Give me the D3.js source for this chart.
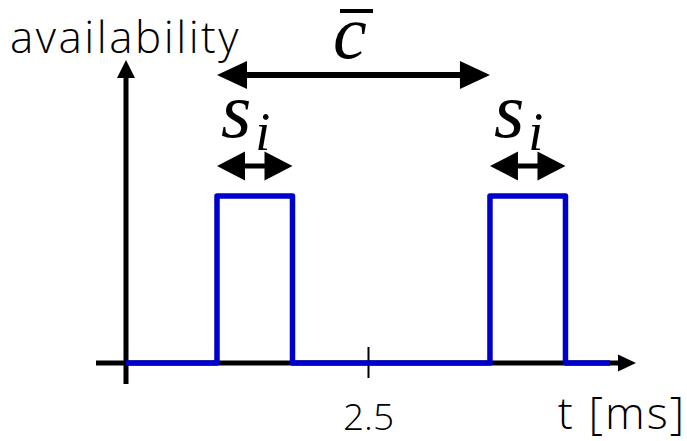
<!DOCTYPE html>
<html>
<head>
<meta charset="utf-8">
<script src="https://cdn.jsdelivr.net/npm/d3@7"></script>
<style>
    body { margin: 0; background: #fff; }
    svg { display: block; }
</style>
</head>
<body>
<div id="chart"></div>
<script>
// step signal: time in ms, availability 0/1
const timeMs = [0, 0.94, 0.94, 1.72, 1.72, 3.76, 3.76, 4.54, 4.54, 5.0];
const availability = [0, 0, 1, 1, 0, 0, 1, 1, 0, 0];

// pulse start / end times (ms)
const pulseStart = [0.94, 3.76];
const pulseEnd = [1.72, 4.54];

// x tick values and labels
const tickValues = [2.5];
const tickLabels = ["2.5"];

const width = 687, height = 441;
const sansFont = "Open Sans";
const mathFont = "Liberation Serif";

let svg = d3.select("#chart").append("svg")
    .attr("width", width)
    .attr("height", height);

// scales
let x = d3.scaleLinear().domain([0, 5]).range([126, 610]);
let y = d3.scaleLinear().domain([0, 1]).range([363, 196]);

// arrow helper: filled triangle head, tip at (tx, ty)
function head(g, tx, ty, dir, len, half) {
    let pts;
    if (dir === "right") pts = [[tx, ty], [tx - len, ty - half], [tx - len, ty + half]];
    if (dir === "left") pts = [[tx, ty], [tx + len, ty - half], [tx + len, ty + half]];
    if (dir === "up") pts = [[tx, ty], [tx - half, ty + len], [tx + half, ty + len]];
    g.append("polygon")
        .attr("points", pts.map(p => p.join(",")).join(" "))
        .attr("fill", "#000");
}

// axes
let axes = svg.append("g");
let y0 = y(0);
let xTip = 636, yTip = 60;

axes.append("line")
    .attr("x1", 96).attr("x2", xTip - 16)
    .attr("y1", y0).attr("y2", y0)
    .attr("stroke", "#000").attr("stroke-width", 5);
head(axes, xTip, y0, "right", 18, 8.5);

axes.append("line")
    .attr("x1", x(0)).attr("x2", x(0))
    .attr("y1", 384).attr("y2", yTip + 16)
    .attr("stroke", "#000").attr("stroke-width", 5);
head(axes, x(0), yTip, "up", 18, 9);

// tick at 2.5 ms
let xAxis = svg.append("g")
    .attr("transform", `translate(0, ${y0 - 16})`)
    .call(d3.axisBottom(x).tickValues(tickValues).tickSize(31)
        .tickFormat((d, i) => tickLabels[i]));
xAxis.attr("font-family", sansFont).attr("font-size", 37);
xAxis.select(".domain").remove();
xAxis.selectAll(".tick line").attr("stroke", "#000").attr("stroke-width", 2);
xAxis.selectAll(".tick text")
    .attr("y", 430 - (y0 - 16))
    .attr("dy", 0)
    .attr("fill", "#000")
    .attr("font-weight", 300);

// signal
let line = d3.line()
    .x((d, i) => x(timeMs[i]))
    .y((d, i) => y(availability[i]));

svg.append("path")
    .datum(timeMs)
    .attr("d", line)
    .attr("fill", "none")
    .attr("stroke", "#0000cc")
    .attr("stroke-width", 5.5)
    .attr("stroke-linejoin", "round");

// c-bar arrow: between consecutive pulse starts
let cy = 75;
let ca = svg.append("g");
ca.append("line")
    .attr("x1", x(pulseStart[0]) + 28).attr("x2", x(pulseStart[1]) - 28)
    .attr("y1", cy).attr("y2", cy)
    .attr("stroke", "#000").attr("stroke-width", 6);
head(ca, x(pulseStart[0]), cy, "left", 30, 14);
head(ca, x(pulseStart[1]), cy, "right", 30, 14);

ca.append("text")
    .attr("x", 333).attr("y", 58)
    .attr("font-family", mathFont)
    .attr("font-style", "italic")
    .attr("font-size", 76)
    .text("c");
ca.append("line")
    .attr("x1", 340).attr("x2", 373)
    .attr("y1", 11).attr("y2", 11)
    .attr("stroke", "#000").attr("stroke-width", 4);

// s_i arrows over each pulse
let sy = 166;
pulseStart.forEach((s, i) => {
    let g = svg.append("g");
    let a = x(s), b = x(pulseEnd[i]);
    g.append("line")
        .attr("x1", a + 26).attr("x2", b - 26)
        .attr("y1", sy).attr("y2", sy)
        .attr("stroke", "#000").attr("stroke-width", 5);
    head(g, a, sy, "left", 28, 14.5);
    head(g, b, sy, "right", 28, 14.5);

    let t = g.append("text")
        .attr("x", a + 4).attr("y", 137)
        .attr("font-family", mathFont)
        .attr("font-style", "italic")
        .attr("font-size", 78);
    t.append("tspan").text("s");
    t.append("tspan")
        .attr("dy", 13)
        .attr("dx", 4)
        .attr("font-size", 54)
        .text("i");
});

// axis titles
svg.append("text")
    .attr("x", 10).attr("y", 53)
    .attr("font-family", sansFont)
    .attr("font-weight", 300)
    .attr("letter-spacing", 2.5)
    .attr("font-size", 44)
    .text("availability");

svg.append("text")
    .attr("x", 686).attr("y", 429)
    .attr("text-anchor", "end")
    .attr("font-family", sansFont)
    .attr("font-weight", 300)
    .attr("letter-spacing", 2)
    .attr("font-size", 45)
    .text("t [ms]");
</script>
</body>
</html>
